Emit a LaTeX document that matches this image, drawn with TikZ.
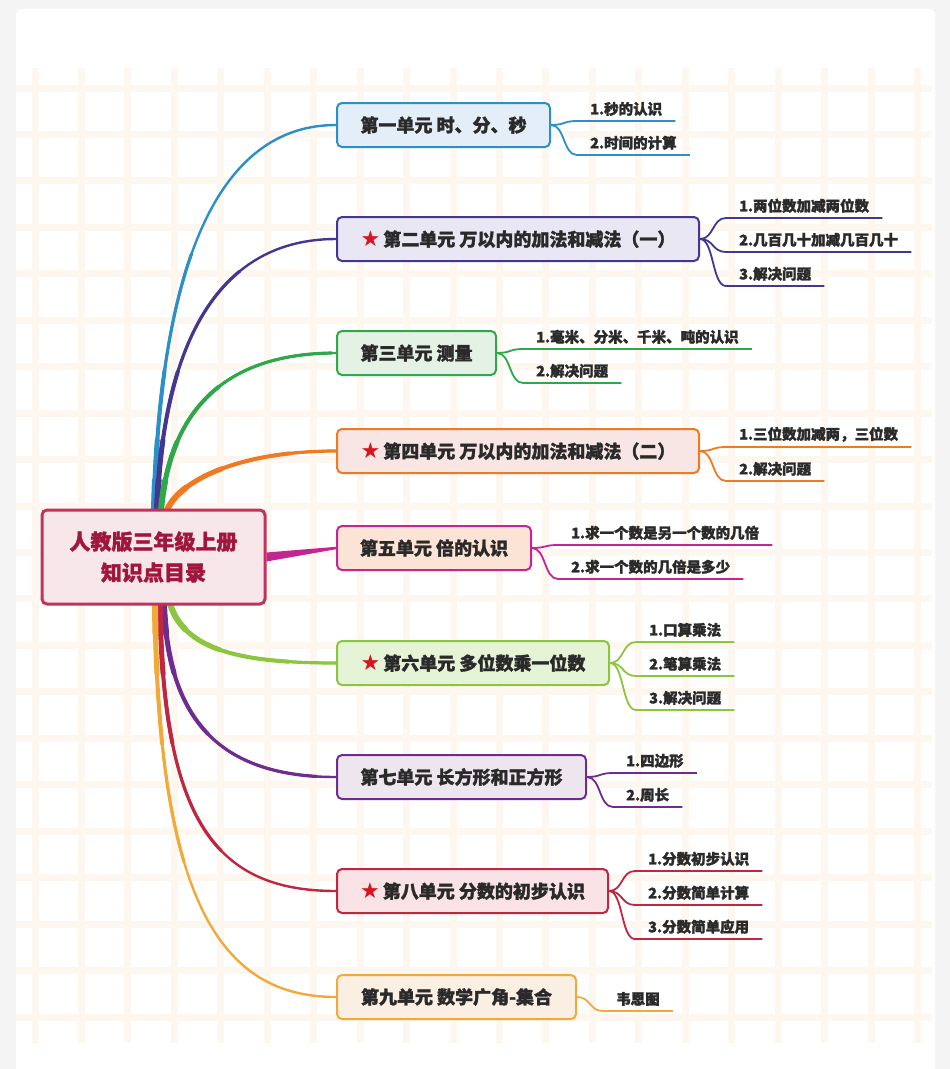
\documentclass[tikz,border=0pt]{standalone}
\usepackage{fontspec}
\setmainfont{Noto Sans CJK SC}[BoldFeatures={FakeBold=1.6}]
\newfontfamily\symfont{DejaVu Sans}
\usetikzlibrary{calc,positioning,backgrounds}
\definecolor{paper}{HTML}{F4F4F4}
\definecolor{gridc}{HTML}{FEF7EF}
\definecolor{ink}{HTML}{2A2A2A}
\definecolor{star}{HTML}{D7141F}
\definecolor{rootline}{HTML}{C2325E}
\definecolor{rootfill}{HTML}{F7E6EA}
\definecolor{roottext}{HTML}{A1163D}
\definecolor{sky}{HTML}{2B8FC8}
\definecolor{skyfill}{HTML}{E4EEF8}
\definecolor{indigo}{HTML}{45378F}
\definecolor{indigofill}{HTML}{E9E7F4}
\definecolor{leaf}{HTML}{2EA84A}
\definecolor{leaffill}{HTML}{E3F2E5}
\definecolor{tangerine}{HTML}{F07A22}
\definecolor{tangerinefill}{HTML}{F7E6E3}
\definecolor{orchid}{HTML}{C42594}
\definecolor{orchidfill}{HTML}{FBE3D5}
\definecolor{lime}{HTML}{8CC63F}
\definecolor{limefill}{HTML}{E5F3D6}
\definecolor{plum}{HTML}{6E2D8E}
\definecolor{plumfill}{HTML}{EDE6EE}
\definecolor{crimson}{HTML}{C0263F}
\definecolor{crimsonfill}{HTML}{F9E3E6}
\definecolor{honey}{HTML}{F2A93B}
\definecolor{honeyfill}{HTML}{FBEFE4}
\newcommand\hot{{\symfont\fontsize{22}{20}\selectfont\color{star}★}\hspace{3pt}}
% tapered branch from the centre to a unit
\newcommand\branch[4]{%
  \foreach \w/\l in {2.4/2000,3.2/260,4/140,5/70,6/30}
    \draw[#1,line width=\w pt,line cap=round,dash pattern=on \l pt off 3000pt]
      (#2) .. controls #3 .. (#4);}
% the sub topics of one unit
\newcommand\twigs[4]{%
  \foreach \t [count=\i] in {#4} {
    \node[twig] (#1-\i) at ($(#1.east)+(26,{#3+34*(\i-1)})$) {\t};
    \draw[#2,line width=1.8pt] (#1.east) .. controls +(14,0) and +(-14,0) .. (#1-\i.south west)
      -- (#1-\i.south east);
  }}

\begin{document}
\begin{tikzpicture}[x=1pt,y=-1pt,
  rootbox/.style={draw=rootline,fill=rootfill,line width=3pt,rounded corners=5pt,
                  minimum width=223pt,minimum height=94pt,align=center,text=roottext,
                  font=\fontsize{21}{31}\selectfont\bfseries},
  unit/.style 2 args={draw=#1,fill=#2,line width=2pt,rounded corners=5pt,anchor=west,
                  minimum height=44pt,text=ink,font=\fontsize{18}{20}\selectfont\bfseries},
  twig/.style={anchor=south west,inner xsep=13pt,inner ysep=5pt,text=ink,
                  font=\fontsize{14.5}{16}\selectfont\bfseries}]
\useasboundingbox (0,0) rectangle (950,1069);
\begin{scope}[on background layer]
\fill[paper] (0,0) rectangle (950,1069);
\fill[white,rounded corners=6pt] (16,9) rectangle (935,1080);
\foreach \x in {35,81.45,...,930}
  \draw[gridc,line width=7pt] (\x,68) -- (\x,1043);
\foreach \y in {88,134.45,...,1040}
  \draw[gridc,line width=7pt] (16,\y) -- (932,\y);
\end{scope}

\node[rootbox] (root) at (153.5,557) {人教版三年级上册\\知识点目录};

\node[unit={sky}{skyfill},minimum width=213pt] (time) at (336,125) {第一单元 时、分、秒};
\node[unit={indigo}{indigofill},minimum width=362pt] (addone) at (336,239) {\hot{}第二单元 万以内的加法和减法（一）};
\node[unit={leaf}{leaffill},minimum width=159pt] (measure) at (336,353) {第三单元 测量};
\node[unit={tangerine}{tangerinefill},minimum width=362pt] (addtwo) at (336,451) {\hot{}第四单元 万以内的加法和减法（二）};
\node[unit={orchid}{orchidfill},minimum width=194pt] (times) at (336,548) {第五单元 倍的认识};
\node[unit={lime}{limefill},minimum width=272pt] (mult) at (336,663) {\hot{}第六单元 多位数乘一位数};
\node[unit={plum}{plumfill},minimum width=249pt] (rect) at (336,777) {第七单元 长方形和正方形};
\node[unit={crimson}{crimsonfill},minimum width=271pt] (frac) at (336,891) {\hot{}第八单元 分数的初步认识};
\node[unit={honey}{honeyfill},minimum width=239pt] (sets) at (336,997) {第九单元 数学广角-集合};

\twigs{time}{sky}{-4}{1.秒的认识,2.时间的计算}
\twigs{addone}{indigo}{-21}{1.两位数加减两位数,2.几百几十加减几百几十,3.解决问题}
\twigs{measure}{leaf}{-4}{1.毫米、分米、千米、吨的认识,2.解决问题}
\twigs{addtwo}{tangerine}{-4}{1.三位数加减两，三位数,2.解决问题}
\twigs{times}{orchid}{-3}{1.求一个数是另一个数的几倍,2.求一个数的几倍是多少}
\twigs{mult}{lime}{-21}{1.口算乘法,2.笔算乘法,3.解决问题}
\twigs{rect}{plum}{-4}{1.四边形,2.周长}
\twigs{frac}{crimson}{-20}{1.分数初步认识,2.分数简单计算,3.分数简单应用}
\twigs{sets}{honey}{14}{韦恩图}

\begin{scope}[on background layer]
\coordinate (top1) at (154,510);
\coordinate (top2) at (157,510);
\coordinate (top3) at (161,510);
\coordinate (top4) at (167,510);
\coordinate (bot6) at (170,604);
\coordinate (bot7) at (164,604);
\coordinate (bot8) at (160,604);
\coordinate (bot9) at (155,604);
\branch{sky}{top1}{(160,260) and (220,125)}{time.west}
\branch{indigo}{top2}{(163,340) and (220,239)}{addone.west}
\branch{leaf}{top3}{(170,410) and (225,353)}{measure.west}
\branch{tangerine}{top4}{(180,480) and (240,451)}{addtwo.west}
\branch{lime}{bot6}{(185,650) and (240,663)}{mult.west}
\branch{plum}{bot7}{(168,720) and (220,777)}{rect.west}
\branch{crimson}{bot8}{(163,820) and (215,891)}{frac.west}
\branch{honey}{bot9}{(158,900) and (220,997)}{sets.west}
\fill[orchid] ($(root.east)+(0,-4.5)$) -- ($(times.west)+(0,-1.2)$)
  -- ($(times.west)+(0,1.2)$) -- ($(root.east)+(0,4.5)$) -- cycle;
\end{scope}
\end{tikzpicture}
\end{document}
